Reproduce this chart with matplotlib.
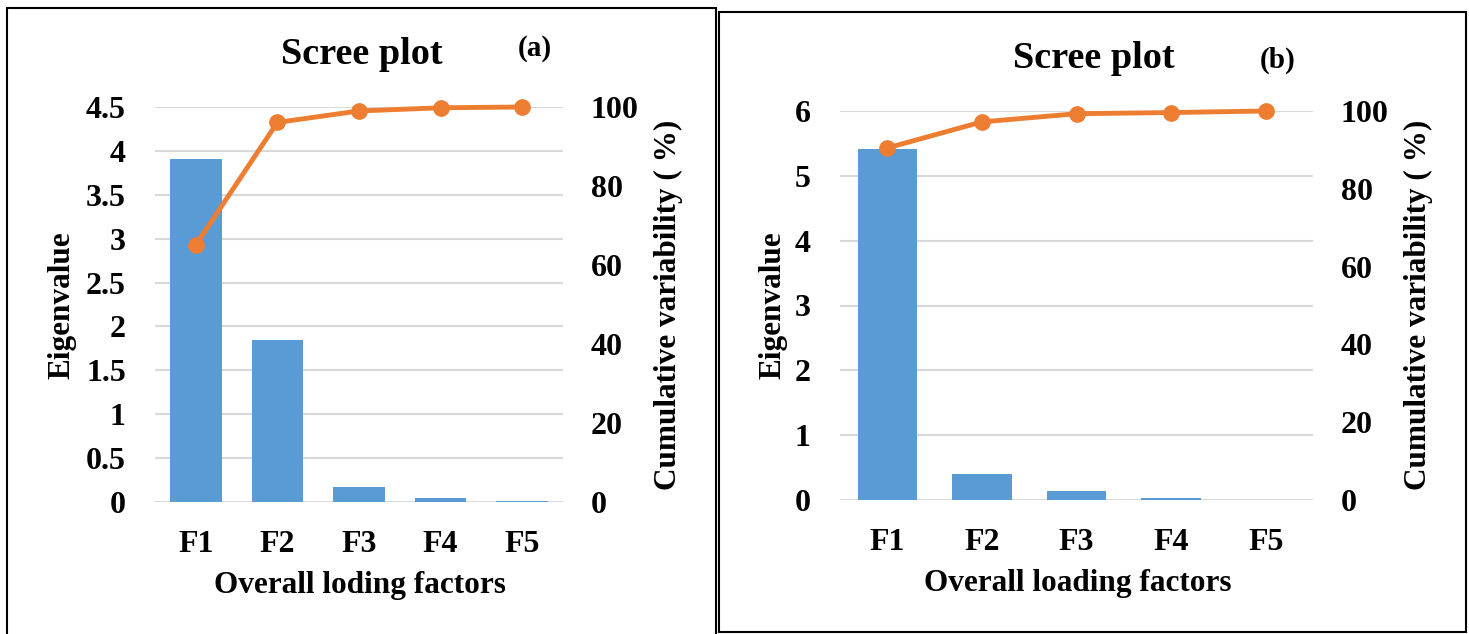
import numpy as np
import matplotlib
matplotlib.use("Agg")
import matplotlib.pyplot as plt
from matplotlib.patches import Rectangle

factors = ["F1", "F2", "F3", "F4", "F5"]

# panel (a)
eig_a = [3.91, 1.84, 0.17, 0.05, 0.006]
cum_a = [65.1, 96.1, 99.0, 99.8, 100.0]
# panel (b)
eig_b = [5.42, 0.40, 0.14, 0.025, 0.005]
cum_b = [90.5, 97.2, 99.3, 99.6, 100.0]

BAR = "#5B9BD5"
LINE = "#ED7D31"
GRID = "#D9D9D9"

plt.rcParams["font.family"] = ["Liberation Serif", "DejaVu Serif"]
plt.rcParams["font.weight"] = "bold"

W, H = 1469, 634
fig = plt.figure(figsize=(W / 100, H / 100), dpi=100)


def px(x, y):
    # pixel (from top-left) -> figure fraction
    return x / W, 1 - y / H


def scree(rect, eig, cum, ymax, ystep, yfmt):
    ax = fig.add_axes(rect)
    x = np.arange(len(factors))
    ax.bar(x, eig, width=0.63, color=BAR, zorder=3)
    ax.set_xlim(-0.5, len(factors) - 0.5)
    ax.set_ylim(0, ymax)
    ticks = np.arange(0, ymax + 1e-9, ystep)
    ax.set_yticks(ticks)
    ax.set_yticklabels([yfmt(t) for t in ticks])
    ax.set_xticks(x)
    ax.set_xticklabels(factors)
    ax.yaxis.grid(True, color=GRID, lw=1.5, zorder=0)
    ax.set_axisbelow(True)
    for s in ax.spines.values():
        s.set_visible(False)
    ax.tick_params(length=0, labelsize=23)
    ax.tick_params(axis="y", pad=21)
    ax.tick_params(axis="x", pad=20)

    ax2 = ax.twinx()
    ax2.plot(x, cum, color=LINE, lw=3.5, marker="o", ms=11, zorder=4,
             clip_on=False)
    ax2.set_ylim(0, 100)
    ax2.set_yticks(range(0, 101, 20))
    for s in ax2.spines.values():
        s.set_visible(False)
    ax2.tick_params(length=0, labelsize=23, pad=20)
    return ax, ax2


def fmt_a(t):
    return "0" if t == 0 else ("%g" % t)


scree([155 / W, 1 - 502 / H, (563 - 155) / W, (502 - 107) / H],
      eig_a, cum_a, 4.5, 0.5, fmt_a)
scree([840 / W, 1 - 500 / H, (1313 - 840) / W, (500 - 111) / H],
      eig_b, cum_b, 6, 1, lambda t: "%d" % t)

# panel frames
fig.patches.append(Rectangle((7 / W, -0.01), 709 / W, (634 - 8) / H + 0.01,
                             transform=fig.transFigure, fill=False,
                             lw=1.5, ec="black"))
fig.patches.append(Rectangle((719 / W, 1 - 632 / H), (1466 - 719) / W,
                             (632 - 12) / H, transform=fig.transFigure,
                             fill=False, lw=1.5, ec="black"))

# titles and labels
fig.text(*px(362, 55), "Scree plot", ha="center", va="center", fontsize=27.5)
fig.text(*px(535, 48), "(a)", ha="center", va="center", fontsize=21)
fig.text(*px(1094, 58), "Scree plot", ha="center", va="center", fontsize=27.5)
fig.text(*px(1278, 60), "(b)", ha="center", va="center", fontsize=21)

fig.text(*px(62, 305), "Eigenvalue", rotation=90, ha="center", va="center",
         fontsize=22.5)
fig.text(*px(668, 305), "Cumulative variability ( %)", rotation=90,
         ha="center", va="center", fontsize=22.5)
fig.text(*px(773, 305), "Eigenvalue", rotation=90, ha="center", va="center",
         fontsize=22.5)
fig.text(*px(1418, 305), "Cumulative variability ( %)", rotation=90,
         ha="center", va="center", fontsize=22.5)

fig.text(*px(360, 586), "Overall loding factors", ha="center", va="center",
         fontsize=22.5)
fig.text(*px(1078, 584), "Overall loading factors", ha="center",
         va="center", fontsize=22.5)

fig.savefig("out.png", dpi=100)
